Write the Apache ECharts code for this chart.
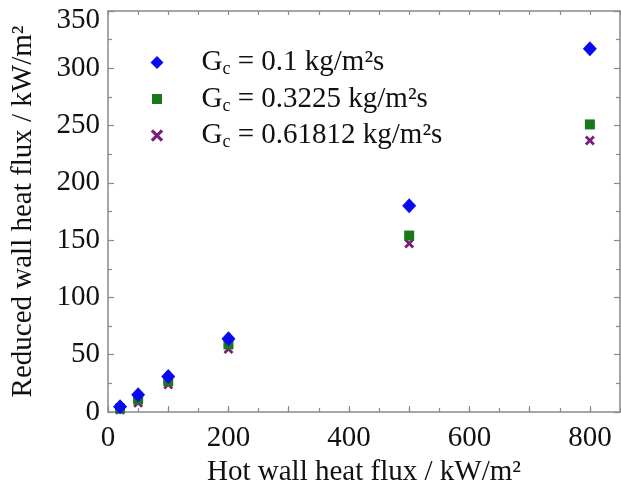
<!DOCTYPE html>
<html>
<head>
<meta charset="utf-8">
<script src="https://cdn.jsdelivr.net/npm/echarts@6/dist/echarts.min.js"></script>
<style>
  html, body { margin: 0; padding: 0; background: #fff; }
  #chart { width: 621px; height: 485px; }
</style>
</head>
<body>
<div id="chart"></div>
<script>
// Hot wall heat flux (kW/m²)
const hotWallFlux = [20, 50, 100, 200, 500, 800];
// Coolant mass flux values (kg/m²s)
const coolantFlux = ['0.1', '0.3225', '0.61812'];
// Reduced wall heat flux (kW/m²) for each coolant mass flux
const reducedFlux01 = [4.5, 15, 31, 64, 180, 317];
const reducedFlux03225 = [3, 11, 27, 59, 154, 251];
const reducedFlux061812 = [2, 8, 24, 55, 147, 237];

const FONT = 'Liberation Serif';
const FS = 29;
const AXIS_GRAY = '#8a8a8a';
const crossPath = 'path://M2,0 L5,3 L8,0 L10,2 L7,5 L10,8 L8,10 L5,7 L2,10 L0,8 L3,5 L0,2 Z';

const seriesName = v => 'Gc = ' + v + ' kg/m²s';
const pairs = ys => hotWallFlux.map((x, i) => [x, ys[i]]);

const frameAxis = {
  min: 0,
  axisLine: { show: true, onZero: false, lineStyle: { color: AXIS_GRAY, width: 1.5 } },
  axisTick: { show: true, inside: true, length: 6, lineStyle: { color: AXIS_GRAY, width: 1.2 } },
  splitLine: { show: false },
};

const chart = echarts.init(document.getElementById('chart'), null, { renderer: 'canvas' });
chart.setOption({
  backgroundColor: '#ffffff',
  animation: false,
  grid: { left: 108, right: 1, top: 11, bottom: 73, containLabel: false, outerBoundsMode: 'none' },
  legend: {
    orient: 'vertical',
    left: 149,
    top: 48,
    padding: 0,
    itemWidth: 13,
    itemHeight: 13,
    itemGap: 6,
    data: [
      { name: seriesName(coolantFlux[0]) },
      { name: seriesName(coolantFlux[1]), itemStyle: { borderColor: '#ffffff', borderWidth: 3 } },
      { name: seriesName(coolantFlux[2]), itemStyle: { borderColor: '#ffffff', borderWidth: 0.6 } }
    ],
    textStyle: {
      fontFamily: FONT,
      fontSize: FS,
      color: '#111',
      rich: {
        g: { fontFamily: FONT, fontSize: FS, color: '#111', lineHeight: 30, padding: [0, 0, 0, 33] },
        s: { fontFamily: FONT, fontSize: 18, color: '#111', padding: [14, 0, 0, 0] },
        t: { fontFamily: FONT, fontSize: FS, color: '#111', lineHeight: 30 }
      }
    },
    formatter: name => '{g|G}{s|c}{t|' + name.slice(2) + '}'
  },
  xAxis: [
    Object.assign({}, frameAxis, {
      type: 'value', position: 'bottom', max: 850, interval: 100,
      name: 'Hot wall heat flux / kW/m²',
      nameLocation: 'middle', nameGap: 42,
      nameTextStyle: { fontFamily: FONT, fontSize: FS, color: '#111' },
      axisLabel: {
        fontFamily: FONT, fontSize: FS, color: '#111', margin: 12, showMaxLabel: false,
        formatter: v => (v % 200 === 0 ? String(v) : '')
      }
    }),
    Object.assign({}, frameAxis, {
      type: 'value', position: 'bottom', max: 850, interval: 50,
      axisLine: { show: false },
      axisTick: { show: true, inside: true, length: 4, lineStyle: { color: AXIS_GRAY, width: 1.2 } },
      axisLabel: { show: false }
    }),
    Object.assign({}, frameAxis, {
      type: 'value', position: 'top', max: 850, interval: 50,
      axisTick: { show: true, inside: true, length: 4, lineStyle: { color: AXIS_GRAY, width: 1.2 } },
      axisLabel: { show: false }
    })
  ],
  yAxis: [
    Object.assign({}, frameAxis, {
      type: 'value', position: 'left', max: 350, interval: 50,
      name: 'Reduced wall heat flux / kW/m²',
      nameLocation: 'middle', nameGap: 70, nameRotate: 90,
      nameTextStyle: { fontFamily: FONT, fontSize: FS, color: '#111' },
      minorTick: { show: true, splitNumber: 2, length: 4, lineStyle: { color: AXIS_GRAY, width: 1.2 } },
      axisLabel: {
        fontFamily: FONT, fontSize: FS, color: '#111', margin: 8,
        // keep the top label inside the canvas
        formatter: v => (v === 350 ? '{top|350}' : String(v)),
        rich: { top: { fontFamily: FONT, fontSize: FS, color: '#111', padding: [18, 0, 0, 0] } }
      }
    }),
    Object.assign({}, frameAxis, {
      type: 'value', position: 'right', max: 350, interval: 50,
      minorTick: { show: true, splitNumber: 2, length: 4, lineStyle: { color: AXIS_GRAY, width: 1.2 } },
      axisLabel: { show: false }
    })
  ],
  series: [
    {
      name: seriesName(coolantFlux[2]), type: 'scatter', xAxisIndex: 0, yAxisIndex: 0,
      symbol: crossPath, symbolSize: 10,
      itemStyle: { color: '#7b1f7b', opacity: 1 },
      data: pairs(reducedFlux061812)
    },
    {
      name: seriesName(coolantFlux[1]), type: 'scatter', xAxisIndex: 0, yAxisIndex: 0,
      symbol: 'rect', symbolSize: 10,
      itemStyle: { color: '#177a17', opacity: 1 },
      data: pairs(reducedFlux03225)
    },
    {
      name: seriesName(coolantFlux[0]), type: 'scatter', xAxisIndex: 0, yAxisIndex: 0,
      symbol: 'diamond', symbolSize: [14, 15],
      itemStyle: { color: '#0a0af0', opacity: 1 },
      data: pairs(reducedFlux01)
    }
  ]
});
</script>
</body>
</html>
